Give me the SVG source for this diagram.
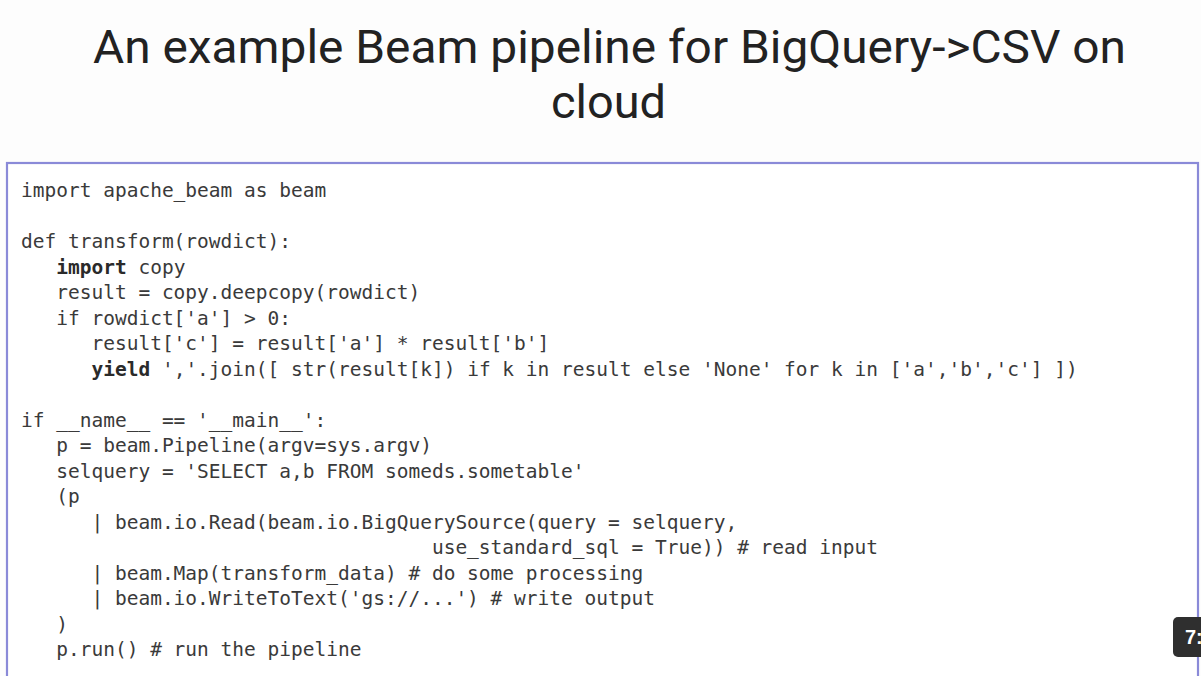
<svg xmlns="http://www.w3.org/2000/svg" width="1201" height="676" viewBox="0 0 1201 676">
  <style>
    .title { font-family: Roboto, "Liberation Sans", sans-serif; font-size: 46px; fill: #222222; }
    .code { font-family: "DejaVu Sans Mono", "Liberation Mono", monospace; font-size: 19.5px; fill: #3a3a3a; white-space: pre; }
    .kw { font-weight: bold; fill: #2a2a2a; }
    .badge-text { font-family: "Liberation Sans", Arial, sans-serif; font-size: 20px; font-weight: bold; fill: #ffffff; }
  </style>
  <rect x="0" y="0" width="1201" height="676" fill="#fdfdfd"/>
  <g id="title">
    <text class="title" x="93" y="63" textLength="1033" lengthAdjust="spacingAndGlyphs">An example Beam pipeline for BigQuery-&gt;CSV on</text>
    <text class="title" x="551" y="118" textLength="115" lengthAdjust="spacingAndGlyphs">cloud</text>
  </g>
  <g id="code-box">
    <rect x="7" y="163" width="1191" height="530" fill="#ffffff" stroke="#8a8ad8" stroke-width="2.2"/>
    <g id="code" xml:space="preserve">
      <text class="code" x="21" y="197">import apache_beam as beam</text>
      <text class="code" x="21" y="248">def transform(rowdict):</text>
      <text class="code" x="21" y="273.5">   <tspan class="kw">import</tspan> copy</text>
      <text class="code" x="21" y="299">   result = copy.deepcopy(rowdict)</text>
      <text class="code" x="21" y="324.5">   if rowdict['a'] &gt; 0:</text>
      <text class="code" x="21" y="350">      result['c'] = result['a'] * result['b']</text>
      <text class="code" x="21" y="375.5">      <tspan class="kw">yield</tspan> ','.join([ str(result[k]) if k in result else 'None' for k in ['a','b','c'] ])</text>
      <text class="code" x="21" y="426.5">if __name__ == '__main__':</text>
      <text class="code" x="21" y="452">   p = beam.Pipeline(argv=sys.argv)</text>
      <text class="code" x="21" y="477.5">   selquery = 'SELECT a,b FROM someds.sometable'</text>
      <text class="code" x="21" y="503">   (p</text>
      <text class="code" x="21" y="528.5">      | beam.io.Read(beam.io.BigQuerySource(query = selquery,</text>
      <text class="code" x="21" y="554">                                   use_standard_sql = True)) # read input</text>
      <text class="code" x="21" y="579.5">      | beam.Map(transform_data) # do some processing</text>
      <text class="code" x="21" y="605">      | beam.io.WriteToText('gs://...') # write output</text>
      <text class="code" x="21" y="630.5">   )</text>
      <text class="code" x="21" y="656">   p.run() # run the pipeline</text>
    </g>
  </g>
  <g id="badge">
    <rect x="1173" y="617" width="40" height="40" rx="5" fill="#2f2f2f"/>
    <text class="badge-text" x="1185" y="644">7:</text>
  </g>
</svg>
